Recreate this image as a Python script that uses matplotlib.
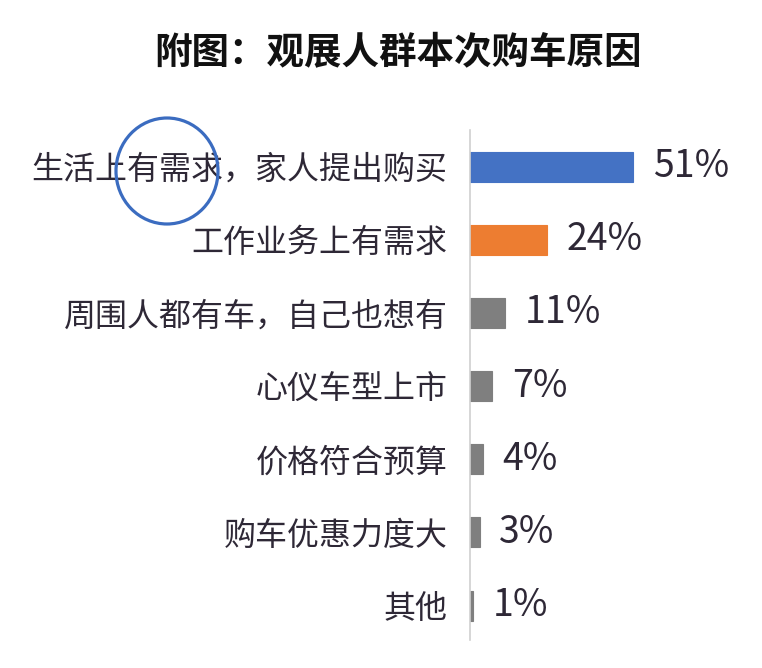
import matplotlib
matplotlib.use('Agg')
import matplotlib.pyplot as plt
from matplotlib.patches import Ellipse

plt.rcParams['font.family'] = ['Noto Sans CJK SC', 'DejaVu Sans']

# 数据
reasons = ['生活上有需求，家人提出购买', '工作业务上有需求', '周围人都有车，自己也想有',
           '心仪车型上市', '价格符合预算', '购车优惠力度大', '其他']
shares = [51, 24, 11, 7, 4, 3, 1]
colors = ['#4472C4', '#ED7D31', '#7F7F7F', '#7F7F7F', '#7F7F7F', '#7F7F7F', '#7F7F7F']
title = '附图：观展人群本次购车原因'

W, H = 762, 668
fig = plt.figure(figsize=(W / 100, H / 100), dpi=100)
fig.patch.set_facecolor('white')

ax = fig.add_axes([470 / W, 1 - 640 / H, 1 - 470 / W, (640 - 130) / H])
ypos = list(range(len(reasons)))
ax.barh(ypos, shares, height=0.41, color=colors, edgecolor=colors, linewidth=0.8)
ax.set_xlim(0, (W - 470) / 3.2)
ax.set_ylim(len(reasons) - 0.53, -0.5)

txt_color = '#2e2836'
ax.set_yticks(ypos)
ax.set_yticklabels(reasons, fontsize=23, color=txt_color)
ax.tick_params(axis='y', length=0, pad=16)
ax.set_xticks([])
for s in ['top', 'right', 'bottom']:
    ax.spines[s].set_visible(False)
ax.spines['left'].set_color('#d0d0d0')
ax.spines['left'].set_linewidth(1.2)

for y, v in zip(ypos, shares):
    ax.annotate(f'{v}%', xy=(v, y), xytext=(14, 0), textcoords='offset points',
                va='center', ha='left', fontsize=27, color=txt_color)

fig.text(398 / W, 1 - 53 / H, title, ha='center', va='center',
         fontsize=27, fontweight='bold', color='#111111')

# 蓝色圈注
fig.add_artist(Ellipse((167 / W, 1 - 171 / H), 102 / W, 106 / H,
                       transform=fig.transFigure, fill=False,
                       edgecolor='#3b6cc0', linewidth=2.3))

fig.savefig('out.png', dpi=100)
